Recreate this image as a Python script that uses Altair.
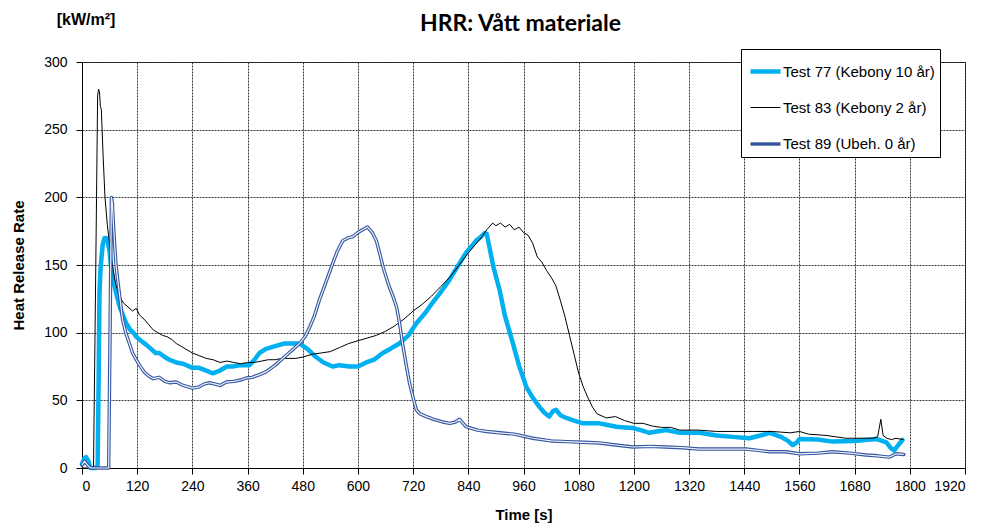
import altair as alt
import pandas as pd

title_text = "HRR: Vått materiale"
unit_label = "[kW/m²]"
y_title = "Heat Release Rate"
x_title = "Time [s]"
series_names = ["Test 77 (Kebony 10 år)", "Test 83 (Kebony 2 år)", "Test 89 (Ubeh. 0 år)"]
x_ticks = list(range(0, 1921, 120))
y_ticks = [0, 50, 100, 150, 200, 250, 300]

test77 = [(0,3),(5,7),(9,8),(14,5),(18,0),(30,0),(34,2),(36,60),(38,129),(40,145),(42,154),(45,165),(49,170),(53,170),(56,167),(60,160),(63,149),(67,140),(71,134),(76,127),(82,119),(90,112),(96,107),(105,102),(112,100),(118,97),(125,95),(132,93),(140,91),(150,88),(160,85),(168,85),(180,82),(190,80),(205,78),(220,77),(240,74),(255,74),(270,72),(284,70),(300,72),(315,75),(327,75),(345,76),(364,76),(375,80),(386,85),(400,88),(420,90),(440,92),(460,92),(473,92),(490,88),(509,82),(525,78),(545,75),(560,76),(582,75),(600,75),(618,78),(635,80),(654,85),(670,88),(690,92),(710,98),(727,107),(745,114),(762,122),(780,130),(799,139),(815,148),(835,159),(845,163),(857,168),(865,170),(875,173.5),(880,173),(886,163),(895,148),(908,131.5),(920,112),(937,92),(950,76),(966,60),(980,52),(995,45),(1005,41),(1016,38),(1024,42),(1031,43),(1040,39),(1053,37),(1070,35),(1089,33),(1105,33),(1125,33),(1140,32),(1162,30.5),(1180,30),(1198,29.5),(1215,28),(1234,26),(1250,27),(1270,28),(1300,26),(1342,26),(1380,24),(1415,23),(1451,22),(1475,24),(1495,26),(1520,23),(1535,20),(1545,17),(1555,19),(1560,21.5),(1600,21),(1632,19.5),(1680,20),(1727,21.5),(1749,19),(1758,15),(1766,13),(1775,17),(1784,20.7)]

test83 = [(0,0),(25,0),(30,150),(34,275),(36,280),(38,278),(40,267),(42,265),(46,230),(50,200),(55,180),(60,165),(66,150),(72,138),(80,128),(90,122),(100,119),(110,116),(118,118),(125,113),(135,110),(145,106),(155,102),(165,100),(175,98),(185,97),(195,95),(205,92),(215,90),(225,88),(240,85),(255,83),(270,81),(285,80),(300,78),(315,79),(330,78),(345,77),(360,78),(375,78),(390,79),(405,80),(420,80),(435,81),(450,81),(465,81),(480,82),(500,84),(520,85),(540,86),(560,89),(580,92),(600,94),(620,96),(640,98),(660,101),(680,105),(700,110),(720,116),(740,121),(760,127),(780,134),(800,141),(820,150),(840,159),(860,167),(870,171),(880,176),(893,181),(900,179),(910,181),(920,178),(930,180),(940,176),(950,178),(960,174),(970,172),(980,166),(990,156),(1000,152),(1010,146),(1020,141),(1030,135),(1040,124),(1050,112),(1060,98),(1070,84),(1080,70),(1090,60),(1100,52),(1110,45),(1120,40),(1140,37),(1160,38),(1180,35),(1200,33),(1220,33),(1240,31),(1260,30),(1280,30),(1300,28),(1340,28),(1380,27),(1420,27),(1460,27),(1500,27),(1540,26),(1560,27),(1580,25),(1620,24),(1660,22),(1700,22),(1720,22),(1730,23),(1737,36),(1742,24),(1750,22),(1760,21),(1770,22),(1785,21)]

test89 = [(0,2),(5,5),(10,3),(15,1),(20,0),(40,0),(58,0),(61,100),(64,200),(66,196),(68,182),(71,165),(74,150),(78,138),(82,127),(88,110),(95,100),(103,92),(110,85),(118,80),(125,76),(135,71),(145,68),(155,66),(168,67),(180,64),(190,63),(205,63.5),(220,61),(240,59),(255,60),(265,62),(277,63),(290,62),(300,61),(314,63.5),(330,64),(345,65),(357,66.5),(370,67),(386,69),(400,71),(420,76),(440,82),(460,88),(473,92),(485,97),(495,104),(505,112),(516,124),(530,137),(545,151),(555,160),(567,168),(578,170),(589,171),(600,174),(610,176),(621,178),(632,173.5),(640,168),(647,159),(655,148),(668,134),(676,127),(684,119),(690,108),(697,92),(705,76),(712,63),(720,52),(727,43),(735,40),(749,38),(765,36),(784,34),(800,33),(812,34),(821,36),(835,30.5),(860,28),(880,27),(908,26),(940,25),(980,22),(1020,20),(1053,19.5),(1090,19),(1125,18.5),(1160,17),(1198,15.5),(1235,16),(1270,15.5),(1305,15),(1342,14),(1400,14),(1444,14),(1470,13),(1495,12),(1530,12),(1560,10.5),(1600,11),(1632,12),(1670,11),(1705,9.6),(1730,9),(1755,8),(1770,10.5),(1787,10)]

rows = []
for name, series in zip(series_names, [test77, test83, test89]):
    for i, (t, v) in enumerate(series):
        rows.append({"series": name, "time": t, "hrr": v, "order": i})
df = pd.DataFrame(rows)
df89 = df[df["series"] == series_names[2]]

FONT = "Liberation Sans"
W, H = 883, 406

grid_kw = dict(grid=True, gridColor="#3a3a3a", gridDash=[2, 1], gridOpacity=1, gridWidth=1,
               domainColor="black", tickColor="black", labelColor="black", titleColor="black",
               labelFont=FONT, titleFont=FONT, labelFontSize=14, titleFontSize=15,
               titleFontWeight="bold", tickSize=6, format="d")

x_enc = alt.X("time:Q", scale=alt.Scale(domain=[0, 1920], nice=False, zero=False),
              axis=alt.Axis(values=x_ticks, title=x_title, titlePadding=14, labelPadding=5, **grid_kw))
y_enc = alt.Y("hrr:Q", scale=alt.Scale(domain=[0, 300], nice=False),
              axis=alt.Axis(values=y_ticks, title=y_title, titlePadding=17, labelPadding=9, **grid_kw))

legend = alt.Legend(title=None, orient="none", legendX=659, legendY=-13,
                    symbolType="stroke", symbolSize=900, symbolOffset=2,
                    labelFontSize=15, labelFont=FONT, labelColor="black",
                    padding=5, rowPadding=11, labelOffset=0,
                    strokeColor="black", fillColor="white", cornerRadius=0)

lines = alt.Chart(df).mark_line(strokeJoin="round", strokeCap="round").encode(
    x=x_enc, y=y_enc,
    color=alt.Color("series:N", scale=alt.Scale(domain=series_names, range=["#00B0F0", "#000000", "#34559F"]),
                    legend=legend),
    strokeWidth=alt.StrokeWidth("series:N", scale=alt.Scale(type="ordinal", domain=series_names, range=[4.5, 1, 3.4]),
                                legend=legend),
    order="order:Q",
)

inner = alt.Chart(df89).mark_line(color="#EEF2FA", strokeWidth=1.2, strokeJoin="round").encode(
    x="time:Q", y="hrr:Q", order="order:Q"
)

unit = alt.Chart(pd.DataFrame({"t": [unit_label]})).mark_text(
    font=FONT, fontSize=16, fontWeight="bold", color="black", align="center", baseline="middle"
).encode(text="t:N", x=alt.value(4), y=alt.value(-42))

title = alt.Chart(pd.DataFrame({"t": [title_text]})).mark_text(
    font="Lato", fontSize=23, fontWeight="bold", color="black", align="center", baseline="middle"
).encode(text="t:N", x=alt.value(W / 2 - 3), y=alt.value(-38))

chart = alt.layer(lines, inner, unit, title).properties(
    width=W, height=H,
    autosize=alt.AutoSizeParams(type="none"),
    padding={"left": 82, "top": 62, "right": 21, "bottom": 58},
    background="white",
).configure_view(stroke="black", strokeWidth=1)

chart.save("out.html", embed_options={"renderer": "svg", "actions": False})
